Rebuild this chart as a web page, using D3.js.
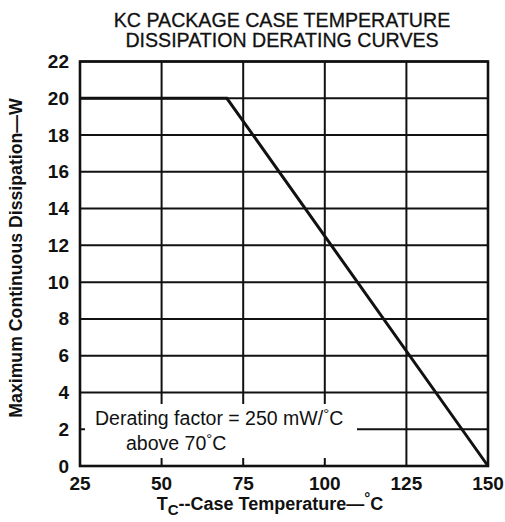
<!DOCTYPE html>
<html><head><meta charset="utf-8">
<script src="https://cdn.jsdelivr.net/npm/d3@7"></script>
<style>body{margin:0;background:#fff}svg{display:block}text{font-family:"Liberation Sans",Arial,sans-serif;fill:#111}</style>
</head><body><svg id="c" width="505" height="522"></svg>
<script>
const xTicks = [25, 50, 75, 100, 125, 150];
const yTicks = [0, 2, 4, 6, 8, 10, 12, 14, 16, 18, 20, 22];
const curveTemp = [25, 70, 150];
const curvePower = [20, 20, 0];
const titleLines = ["KC PACKAGE CASE TEMPERATURE", "DISSIPATION DERATING CURVES"];

const svg = d3.select("#c");
const L = 80, R = 488, T = 61.5, B = 466;
const x = d3.scaleLinear().domain([25, 150]).range([L, R]);
const y = d3.scaleLinear().domain([0, 22]).range([B, T]);

// gridlines
const g = svg.append("g");
g.selectAll(".vx").data(xTicks).join("line")
  .attr("x1", d => x(d)).attr("x2", d => x(d)).attr("y1", T).attr("y2", B)
  .attr("stroke", "#111").attr("stroke-width", 2);
g.selectAll(".hy").data(yTicks).join("line")
  .attr("y1", d => y(d)).attr("y2", d => y(d)).attr("x1", L).attr("x2", R)
  .attr("stroke", "#111").attr("stroke-width", 2);

// annotation white box
svg.append("rect").attr("x", 85).attr("y", 404).attr("width", 272).attr("height", 54).attr("fill", "#fff");

// frame
svg.append("rect").attr("x", L).attr("y", T).attr("width", R - L).attr("height", B - T)
  .attr("fill", "none").attr("stroke", "#111").attr("stroke-width", 2.6);

// curve
const pts = curveTemp.map((t, i) => [t, curvePower[i]]);
svg.append("path").attr("d", d3.line().x(d => x(d[0])).y(d => y(d[1]))(pts))
  .attr("fill", "none").attr("stroke", "#111").attr("stroke-width", 3).attr("stroke-linejoin", "miter");

// axes labels
svg.selectAll(".yl").data(yTicks).join("text")
  .attr("x", 69).attr("y", d => y(d) + 6.5).attr("text-anchor", "end")
  .attr("font-size", 19).attr("font-weight", "bold").text(d => d);
svg.selectAll(".xl").data(xTicks).join("text")
  .attr("x", d => x(d)).attr("y", 489.5).attr("text-anchor", "middle")
  .attr("font-size", 19).attr("font-weight", "bold").text(d => d);

// title
svg.selectAll(".tt").data(titleLines).join("text")
  .attr("x", 282).attr("y", (d, i) => 26.5 + i * 20.5).attr("text-anchor", "middle")
  .attr("font-size", 19.6).attr("stroke", "#111").attr("stroke-width", 0.3).text(d => d);

// y axis title
svg.append("text").attr("transform", "translate(22,258) rotate(-90)")
  .attr("text-anchor", "middle").attr("font-size", 17.7).attr("font-weight", "bold")
  .text("Maximum Continuous Dissipation\u2014W");

// x axis title
const xt = svg.append("text").attr("x", 270).attr("y", 510).attr("text-anchor", "middle")
  .attr("font-size", 18).attr("font-weight", "bold");
xt.append("tspan").text("T");
xt.append("tspan").attr("dy", 5).attr("font-size", 15).text("C");
xt.append("tspan").attr("dy", -5).text("--Case Temperature\u2014");
xt.append("tspan").attr("dy", -7).attr("font-size", 15).text("\u00B0");
xt.append("tspan").attr("dy", 7).text("C");

// annotation
const a1 = svg.append("text").attr("x", 95).attr("y", 424.5).attr("font-size", 19.5);
a1.append("tspan").text("Derating factor = 250 mW/");
a1.append("tspan").attr("dy", -6).attr("font-size", 15).text("\u00B0");
a1.append("tspan").attr("dy", 6).text("C");
const a2 = svg.append("text").attr("x", 126).attr("y", 450).attr("font-size", 19.5);
a2.append("tspan").text("above 70");
a2.append("tspan").attr("dy", -6).attr("font-size", 15).text("\u00B0");
a2.append("tspan").attr("dy", 6).text("C");
</script></body></html>
